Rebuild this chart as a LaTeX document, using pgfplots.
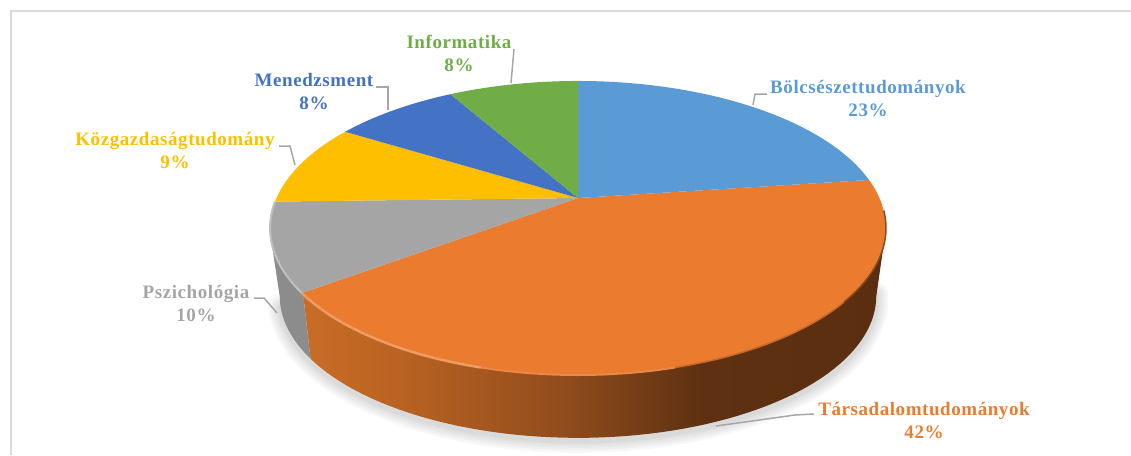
\documentclass[border=0pt]{standalone}
\usepackage{pgfplots}
\pgfplotsset{compat=1.18}
\usepackage{pgfplotstable}
\usepackage{fontspec}
\setmainfont[LetterSpace=3]{Liberation Serif}

\definecolor{cBol}{HTML}{5B9BD5}
\definecolor{cTar}{HTML}{EA7B2F}
\definecolor{cPsz}{HTML}{A5A5A5}
\definecolor{cKoz}{HTML}{FDBF00}
\definecolor{cMen}{HTML}{4472C4}
\definecolor{cInf}{HTML}{70AD47}
\definecolor{leader}{HTML}{A6A6A6}
\definecolor{wA}{HTML}{C96C27}
\definecolor{wB}{HTML}{BA6322}
\definecolor{wC}{HTML}{924D1D}
\definecolor{wD}{HTML}{5F3112}
\definecolor{wE}{HTML}{5A2E10}

\pgfdeclarehorizontalshading{orangewall}{100bp}{
  color(0bp)=(wA);color(25bp)=(wA);color(33bp)=(wB);
  color(47bp)=(wC);color(59bp)=(wD);color(75bp)=(wE);color(100bp)=(wE)}

\tikzset{lab/.style={font=\fontsize{19}{23}\selectfont\bfseries, align=center, inner sep=0pt}}

% slice sizes (drawn share, the labels give the rounded %)
\pgfplotstableread{
name pct
Bol 22.9
Tar 42.0
Psz 9.7
Koz 9.1
Men 8.0
Inf 8.3
}\slices

% cumulative share -> degrees clockwise from the top
\pgfmathsetmacro{\tA}{3.6*22.9}
\pgfmathsetmacro{\tB}{3.6*(22.9+42.0)}
\pgfmathsetmacro{\tC}{3.6*(22.9+42.0+9.7)}
\pgfmathsetmacro{\tD}{3.6*(22.9+42.0+9.7+9.1)}
\pgfmathsetmacro{\tE}{3.6*(22.9+42.0+9.7+9.1+8.0)}

% top face and foot of the disc, seen in perspective
\newcommand{\topx}{{578+301.5*sin(\t)/(1+0.204*cos(\t))}}
\newcommand{\topy}{{198-140.9*cos(\t)/(1+0.204*cos(\t))}}
\newcommand{\botx}{{578+292*sin(\t)/(1+0.204*cos(\t))}}
\newcommand{\boty}{{267-136*cos(\t)/(1+0.204*cos(\t))}}
\newcommand{\shy}{{270-136*cos(\t)/(1+0.204*cos(\t))}}

\newcommand{\slice}[3]{\addplot[fill=#1,draw=none,domain=#2:#3,samples=50,variable=\t]
  (\topx,\topy) -- (axis cs:578,198) -- cycle;}
\newcommand{\rim}[4]{\addplot[draw=#1,line width=#4,domain=#2:#3,samples=25,variable=\t]
  (\topx,\topy);}
\newcommand{\shadow}[1]{\addplot[draw=black,opacity=0.03,line cap=round,line width=#1,domain=100:255,samples=60,variable=\t]
  (\botx,\shy);}
\newcommand{\lead}[1]{\addplot[leader,line width=1.5pt] coordinates {#1};}

\begin{document}
\begin{tikzpicture}
\begin{axis}[
  scale only axis, width=1131pt, height=455pt,
  xmin=0, xmax=1131, ymin=0, ymax=455, y dir=reverse,
  hide axis, clip=true,
]
% keep the whole canvas
\path[use as bounding box] (rel axis cs:0,0) rectangle (rel axis cs:1,1);

% frame
\addplot[draw=black!15,line width=2pt] coordinates {(11,455) (11,11) (1131,11)};

% soft shadow
\shadow{24pt}\shadow{19pt}\shadow{14pt}\shadow{9pt}\shadow{5pt}

% walls
\addplot[draw=none,shading=orangewall,domain=102:\tB,samples=70,variable=\t]
  (\botx,\boty) -- (axis cs:303,293) -- (axis cs:886,228) -- cycle;
\addplot[fill=black!45,draw=none,domain=\tB:258,samples=25,variable=\t]
  (\botx,\boty) -- (axis cs:270,232) -- (axis cs:303,293) -- cycle;

% top face
\slice{cTar}{\tA}{\tB}
\slice{cBol}{0}{\tA}
\slice{cPsz}{\tB}{\tC}
\slice{cKoz}{\tC}{\tD}
\slice{cMen}{\tD}{\tE}
\slice{cInf}{\tE}{360}

% bevel along the front edge
\rim{cPsz!70!white}{\tB}{\tC}{2pt}
\rim{cTar!60!black}{95}{130}{1.5pt}
\rim{cTar!85!black}{130}{165}{1.5pt}
\rim{cTar!90!white}{165}{195}{2pt}
\rim{cTar!75!white}{195}{\tB}{2.5pt}

% leaders
\lead{(753,105) (755,94) (767,94)}
\lead{(716,426) (795,415) (814,414)}
\lead{(277,313) (264,298) (254,298)}
\lead{(295,165) (290,146) (279,146)}
\lead{(388,110) (388,87) (376,87)}
\lead{(511,83) (514,49)}

% labels
\node[lab,text=cBol] at (axis cs:868,99) {Bölcsészettudományok\\23\%};
\node[lab,text=cTar] at (axis cs:924,421) {Társadalomtudományok\\42\%};
\node[lab,text=cPsz] at (axis cs:196,304) {Pszichológia\\10\%};
\node[lab,text=cKoz] at (axis cs:175,151) {Közgazdaságtudomány\\9\%};
\node[lab,text=cMen] at (axis cs:314,92) {Menedzsment\\8\%};
\node[lab,text=cInf] at (axis cs:459,53) {Informatika\\8\%};
\end{axis}
\end{tikzpicture}
\end{document}
